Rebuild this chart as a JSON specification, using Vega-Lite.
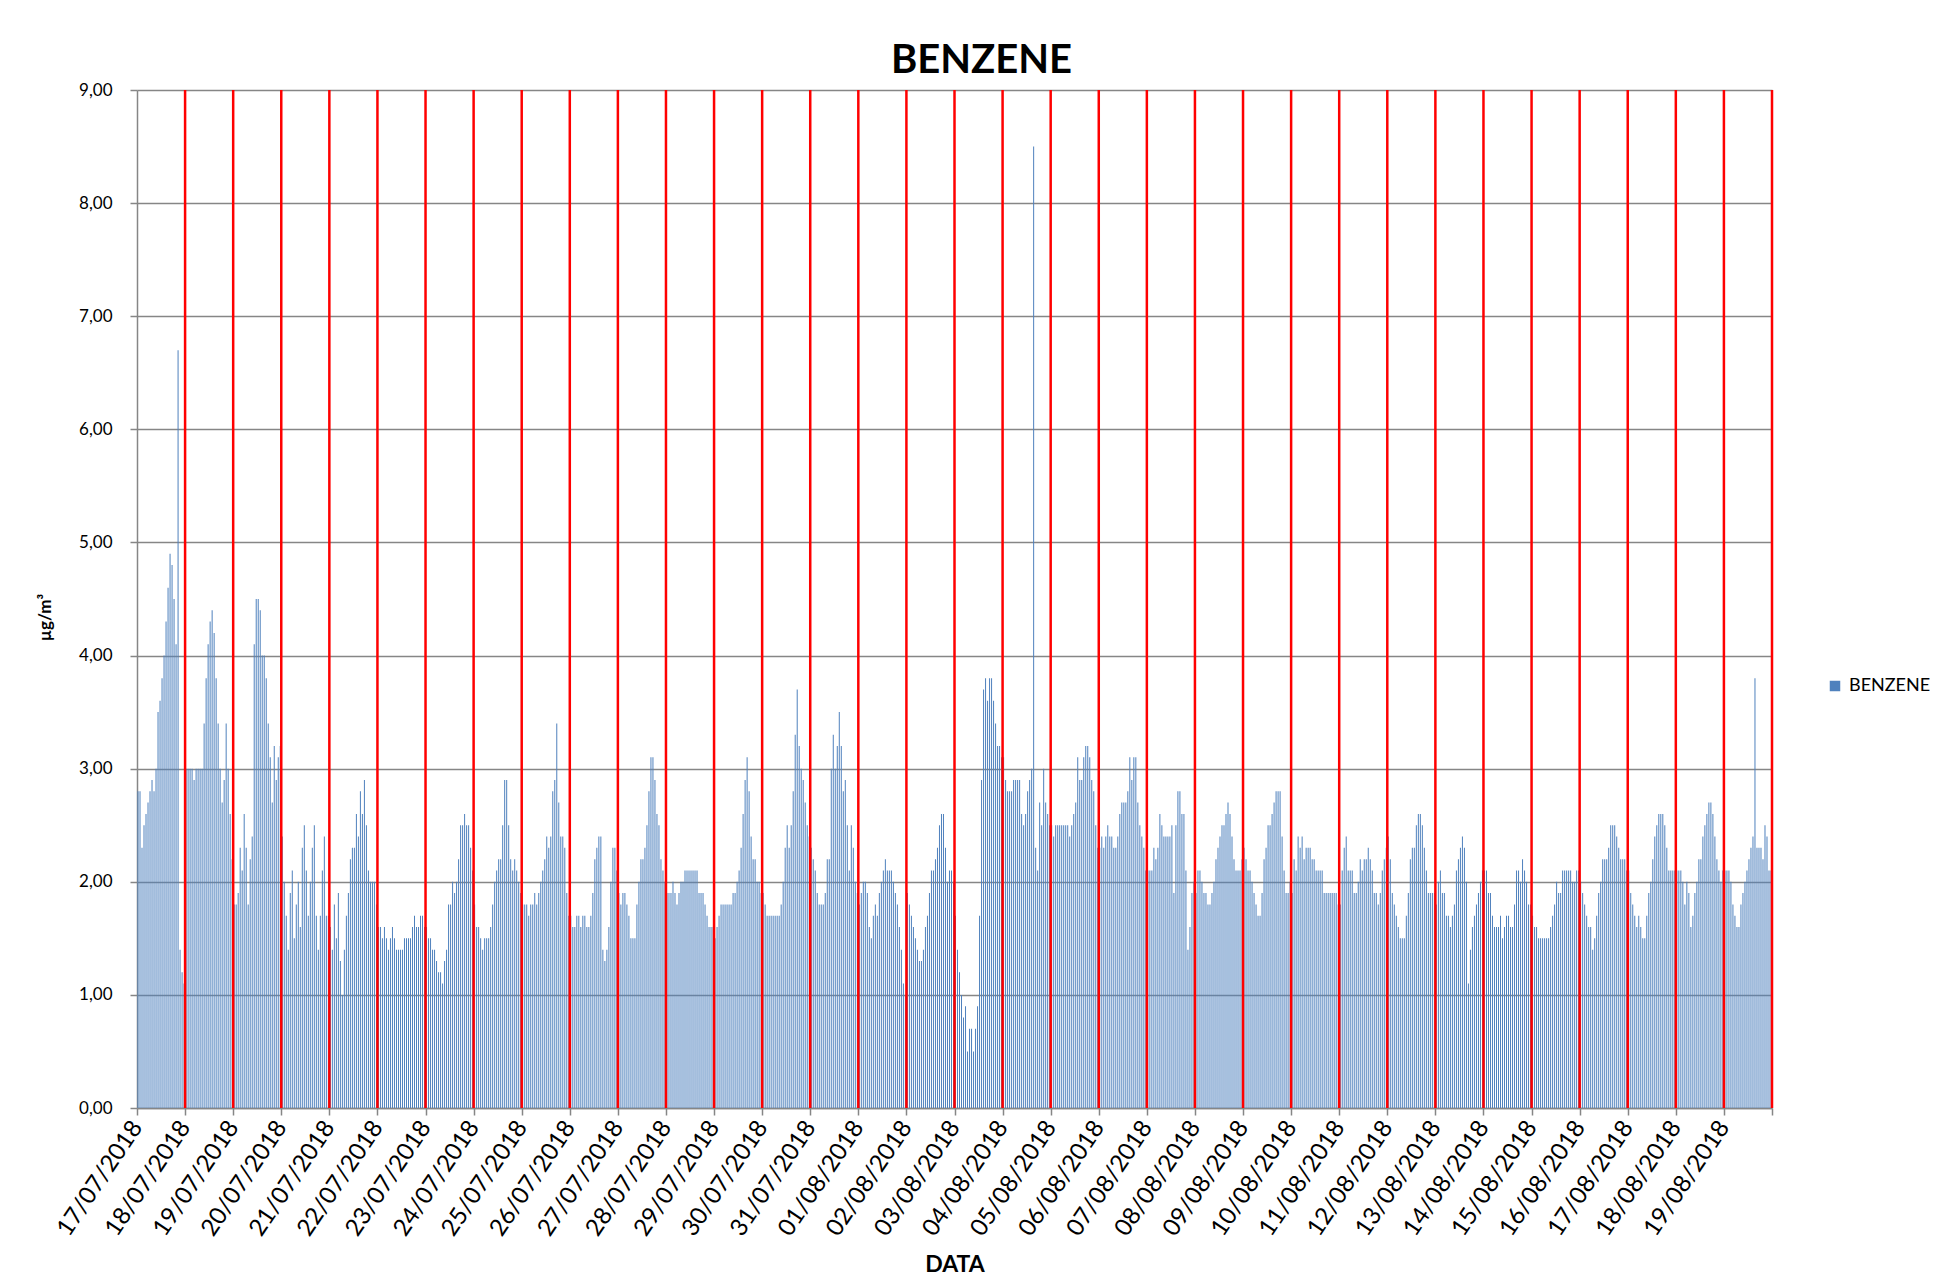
{
"$schema": "https://vega.github.io/schema/vega-lite/v6.json",
"background": "white",
"autosize": "none",
"width": 1635,
"height": 1018,
"padding": {"left": 137, "top": 90, "right": 185, "bottom": 170},
"title": {"text": "BENZENE", "fontSize": 40, "fontWeight": "bold", "font": "Lato", "anchor": "middle", "dx": 27, "offset": 0, "color": "black"},
"config": {"font": "Lato", "view": {"stroke": null}},
"datasets": {
"hourly": [
{"t":"2018-07-17T00:00","v":2.8},{"t":"2018-07-17T01:00","v":2.8},{"t":"2018-07-17T02:00","v":2.3},{"t":"2018-07-17T03:00","v":2.5},{"t":"2018-07-17T04:00","v":2.6},{"t":"2018-07-17T05:00","v":2.7},{"t":"2018-07-17T06:00","v":2.8},{"t":"2018-07-17T07:00","v":2.9},{"t":"2018-07-17T08:00","v":2.8},{"t":"2018-07-17T09:00","v":3.0},{"t":"2018-07-17T10:00","v":3.5},{"t":"2018-07-17T11:00","v":3.6},{"t":"2018-07-17T12:00","v":3.8},{"t":"2018-07-17T13:00","v":4.0},{"t":"2018-07-17T14:00","v":4.3},{"t":"2018-07-17T15:00","v":4.6},{"t":"2018-07-17T16:00","v":4.9},{"t":"2018-07-17T17:00","v":4.8},{"t":"2018-07-17T18:00","v":4.5},{"t":"2018-07-17T19:00","v":4.1},{"t":"2018-07-17T20:00","v":6.7},{"t":"2018-07-17T21:00","v":1.4},{"t":"2018-07-17T22:00","v":1.2},{"t":"2018-07-17T23:00","v":1.1},
{"t":"2018-07-18T00:00","v":3.0},{"t":"2018-07-18T01:00","v":3.0},{"t":"2018-07-18T02:00","v":3.0},{"t":"2018-07-18T03:00","v":3.0},{"t":"2018-07-18T04:00","v":2.9},{"t":"2018-07-18T05:00","v":3.0},{"t":"2018-07-18T06:00","v":3.0},{"t":"2018-07-18T07:00","v":3.0},{"t":"2018-07-18T08:00","v":3.0},{"t":"2018-07-18T09:00","v":3.4},{"t":"2018-07-18T10:00","v":3.8},{"t":"2018-07-18T11:00","v":4.1},{"t":"2018-07-18T12:00","v":4.3},{"t":"2018-07-18T13:00","v":4.4},{"t":"2018-07-18T14:00","v":4.2},{"t":"2018-07-18T15:00","v":3.8},{"t":"2018-07-18T16:00","v":3.4},{"t":"2018-07-18T17:00","v":3.0},{"t":"2018-07-18T18:00","v":2.7},{"t":"2018-07-18T19:00","v":2.9},{"t":"2018-07-18T20:00","v":3.4},{"t":"2018-07-18T21:00","v":3.0},{"t":"2018-07-18T22:00","v":2.6},{"t":"2018-07-18T23:00","v":2.2},
{"t":"2018-07-19T00:00","v":1.8},{"t":"2018-07-19T01:00","v":1.8},{"t":"2018-07-19T02:00","v":1.9},{"t":"2018-07-19T03:00","v":2.3},{"t":"2018-07-19T04:00","v":2.1},{"t":"2018-07-19T05:00","v":2.6},{"t":"2018-07-19T06:00","v":2.3},{"t":"2018-07-19T07:00","v":1.8},{"t":"2018-07-19T08:00","v":2.2},{"t":"2018-07-19T09:00","v":2.4},{"t":"2018-07-19T10:00","v":4.1},{"t":"2018-07-19T11:00","v":4.5},{"t":"2018-07-19T12:00","v":4.5},{"t":"2018-07-19T13:00","v":4.4},{"t":"2018-07-19T14:00","v":4.0},{"t":"2018-07-19T15:00","v":4.0},{"t":"2018-07-19T16:00","v":3.8},{"t":"2018-07-19T17:00","v":3.4},{"t":"2018-07-19T18:00","v":3.1},{"t":"2018-07-19T19:00","v":2.7},{"t":"2018-07-19T20:00","v":3.2},{"t":"2018-07-19T21:00","v":2.9},{"t":"2018-07-19T22:00","v":3.1},{"t":"2018-07-19T23:00","v":3.2},
{"t":"2018-07-20T00:00","v":2.4},{"t":"2018-07-20T01:00","v":2.0},{"t":"2018-07-20T02:00","v":1.7},{"t":"2018-07-20T03:00","v":1.4},{"t":"2018-07-20T04:00","v":1.9},{"t":"2018-07-20T05:00","v":2.1},{"t":"2018-07-20T06:00","v":1.5},{"t":"2018-07-20T07:00","v":1.8},{"t":"2018-07-20T08:00","v":2.0},{"t":"2018-07-20T09:00","v":1.6},{"t":"2018-07-20T10:00","v":2.3},{"t":"2018-07-20T11:00","v":2.5},{"t":"2018-07-20T12:00","v":2.1},{"t":"2018-07-20T13:00","v":1.7},{"t":"2018-07-20T14:00","v":2.0},{"t":"2018-07-20T15:00","v":2.3},{"t":"2018-07-20T16:00","v":2.5},{"t":"2018-07-20T17:00","v":1.7},{"t":"2018-07-20T18:00","v":1.4},{"t":"2018-07-20T19:00","v":1.7},{"t":"2018-07-20T20:00","v":2.1},{"t":"2018-07-20T21:00","v":2.4},{"t":"2018-07-20T22:00","v":1.7},{"t":"2018-07-20T23:00","v":1.7},
{"t":"2018-07-21T00:00","v":1.6},{"t":"2018-07-21T01:00","v":1.4},{"t":"2018-07-21T02:00","v":1.8},{"t":"2018-07-21T03:00","v":1.5},{"t":"2018-07-21T04:00","v":1.9},{"t":"2018-07-21T05:00","v":1.3},{"t":"2018-07-21T06:00","v":1.0},{"t":"2018-07-21T07:00","v":1.4},{"t":"2018-07-21T08:00","v":1.7},{"t":"2018-07-21T09:00","v":1.9},{"t":"2018-07-21T10:00","v":2.2},{"t":"2018-07-21T11:00","v":2.3},{"t":"2018-07-21T12:00","v":2.3},{"t":"2018-07-21T13:00","v":2.6},{"t":"2018-07-21T14:00","v":2.4},{"t":"2018-07-21T15:00","v":2.8},{"t":"2018-07-21T16:00","v":2.6},{"t":"2018-07-21T17:00","v":2.9},{"t":"2018-07-21T18:00","v":2.5},{"t":"2018-07-21T19:00","v":2.1},{"t":"2018-07-21T20:00","v":2.0},{"t":"2018-07-21T21:00","v":2.0},{"t":"2018-07-21T22:00","v":2.0},{"t":"2018-07-21T23:00","v":1.8},
{"t":"2018-07-22T00:00","v":1.6},{"t":"2018-07-22T01:00","v":1.6},{"t":"2018-07-22T02:00","v":1.5},{"t":"2018-07-22T03:00","v":1.6},{"t":"2018-07-22T04:00","v":1.5},{"t":"2018-07-22T05:00","v":1.4},{"t":"2018-07-22T06:00","v":1.5},{"t":"2018-07-22T07:00","v":1.6},{"t":"2018-07-22T08:00","v":1.5},{"t":"2018-07-22T09:00","v":1.4},{"t":"2018-07-22T10:00","v":1.4},{"t":"2018-07-22T11:00","v":1.4},{"t":"2018-07-22T12:00","v":1.4},{"t":"2018-07-22T13:00","v":1.5},{"t":"2018-07-22T14:00","v":1.5},{"t":"2018-07-22T15:00","v":1.5},{"t":"2018-07-22T16:00","v":1.5},{"t":"2018-07-22T17:00","v":1.6},{"t":"2018-07-22T18:00","v":1.7},{"t":"2018-07-22T19:00","v":1.6},{"t":"2018-07-22T20:00","v":1.6},{"t":"2018-07-22T21:00","v":1.7},{"t":"2018-07-22T22:00","v":1.7},{"t":"2018-07-22T23:00","v":1.6},
{"t":"2018-07-23T00:00","v":1.6},{"t":"2018-07-23T01:00","v":1.5},{"t":"2018-07-23T02:00","v":1.5},{"t":"2018-07-23T03:00","v":1.4},{"t":"2018-07-23T04:00","v":1.4},{"t":"2018-07-23T05:00","v":1.3},{"t":"2018-07-23T06:00","v":1.2},{"t":"2018-07-23T07:00","v":1.2},{"t":"2018-07-23T08:00","v":1.1},{"t":"2018-07-23T09:00","v":1.3},{"t":"2018-07-23T10:00","v":1.4},{"t":"2018-07-23T11:00","v":1.8},{"t":"2018-07-23T12:00","v":1.8},{"t":"2018-07-23T13:00","v":2.0},{"t":"2018-07-23T14:00","v":1.9},{"t":"2018-07-23T15:00","v":2.0},{"t":"2018-07-23T16:00","v":2.2},{"t":"2018-07-23T17:00","v":2.5},{"t":"2018-07-23T18:00","v":2.5},{"t":"2018-07-23T19:00","v":2.6},{"t":"2018-07-23T20:00","v":2.5},{"t":"2018-07-23T21:00","v":2.5},{"t":"2018-07-23T22:00","v":2.3},{"t":"2018-07-23T23:00","v":2.1},
{"t":"2018-07-24T00:00","v":1.8},{"t":"2018-07-24T01:00","v":1.6},{"t":"2018-07-24T02:00","v":1.6},{"t":"2018-07-24T03:00","v":1.5},{"t":"2018-07-24T04:00","v":1.4},{"t":"2018-07-24T05:00","v":1.5},{"t":"2018-07-24T06:00","v":1.5},{"t":"2018-07-24T07:00","v":1.5},{"t":"2018-07-24T08:00","v":1.6},{"t":"2018-07-24T09:00","v":1.8},{"t":"2018-07-24T10:00","v":2.0},{"t":"2018-07-24T11:00","v":2.1},{"t":"2018-07-24T12:00","v":2.2},{"t":"2018-07-24T13:00","v":2.2},{"t":"2018-07-24T14:00","v":2.5},{"t":"2018-07-24T15:00","v":2.9},{"t":"2018-07-24T16:00","v":2.9},{"t":"2018-07-24T17:00","v":2.5},{"t":"2018-07-24T18:00","v":2.2},{"t":"2018-07-24T19:00","v":2.1},{"t":"2018-07-24T20:00","v":2.2},{"t":"2018-07-24T21:00","v":2.1},{"t":"2018-07-24T22:00","v":2.0},{"t":"2018-07-24T23:00","v":1.9},
{"t":"2018-07-25T00:00","v":1.8},{"t":"2018-07-25T01:00","v":1.8},{"t":"2018-07-25T02:00","v":1.8},{"t":"2018-07-25T03:00","v":1.7},{"t":"2018-07-25T04:00","v":1.8},{"t":"2018-07-25T05:00","v":1.8},{"t":"2018-07-25T06:00","v":1.9},{"t":"2018-07-25T07:00","v":1.8},{"t":"2018-07-25T08:00","v":1.9},{"t":"2018-07-25T09:00","v":2.0},{"t":"2018-07-25T10:00","v":2.1},{"t":"2018-07-25T11:00","v":2.2},{"t":"2018-07-25T12:00","v":2.4},{"t":"2018-07-25T13:00","v":2.3},{"t":"2018-07-25T14:00","v":2.4},{"t":"2018-07-25T15:00","v":2.8},{"t":"2018-07-25T16:00","v":2.9},{"t":"2018-07-25T17:00","v":3.4},{"t":"2018-07-25T18:00","v":2.7},{"t":"2018-07-25T19:00","v":2.4},{"t":"2018-07-25T20:00","v":2.4},{"t":"2018-07-25T21:00","v":2.3},{"t":"2018-07-25T22:00","v":1.9},{"t":"2018-07-25T23:00","v":1.7},
{"t":"2018-07-26T00:00","v":1.7},{"t":"2018-07-26T01:00","v":1.6},{"t":"2018-07-26T02:00","v":1.6},{"t":"2018-07-26T03:00","v":1.7},{"t":"2018-07-26T04:00","v":1.7},{"t":"2018-07-26T05:00","v":1.6},{"t":"2018-07-26T06:00","v":1.7},{"t":"2018-07-26T07:00","v":1.7},{"t":"2018-07-26T08:00","v":1.6},{"t":"2018-07-26T09:00","v":1.6},{"t":"2018-07-26T10:00","v":1.7},{"t":"2018-07-26T11:00","v":1.9},{"t":"2018-07-26T12:00","v":2.2},{"t":"2018-07-26T13:00","v":2.3},{"t":"2018-07-26T14:00","v":2.4},{"t":"2018-07-26T15:00","v":2.4},{"t":"2018-07-26T16:00","v":1.4},{"t":"2018-07-26T17:00","v":1.3},{"t":"2018-07-26T18:00","v":1.4},{"t":"2018-07-26T19:00","v":1.6},{"t":"2018-07-26T20:00","v":2.0},{"t":"2018-07-26T21:00","v":2.3},{"t":"2018-07-26T22:00","v":2.3},{"t":"2018-07-26T23:00","v":2.1},
{"t":"2018-07-27T00:00","v":1.9},{"t":"2018-07-27T01:00","v":1.8},{"t":"2018-07-27T02:00","v":1.9},{"t":"2018-07-27T03:00","v":1.9},{"t":"2018-07-27T04:00","v":1.8},{"t":"2018-07-27T05:00","v":1.7},{"t":"2018-07-27T06:00","v":1.5},{"t":"2018-07-27T07:00","v":1.5},{"t":"2018-07-27T08:00","v":1.5},{"t":"2018-07-27T09:00","v":1.8},{"t":"2018-07-27T10:00","v":2.0},{"t":"2018-07-27T11:00","v":2.2},{"t":"2018-07-27T12:00","v":2.2},{"t":"2018-07-27T13:00","v":2.3},{"t":"2018-07-27T14:00","v":2.5},{"t":"2018-07-27T15:00","v":2.8},{"t":"2018-07-27T16:00","v":3.1},{"t":"2018-07-27T17:00","v":3.1},{"t":"2018-07-27T18:00","v":2.9},{"t":"2018-07-27T19:00","v":2.6},{"t":"2018-07-27T20:00","v":2.5},{"t":"2018-07-27T21:00","v":2.2},{"t":"2018-07-27T22:00","v":2.1},{"t":"2018-07-27T23:00","v":2.0},
{"t":"2018-07-28T00:00","v":1.9},{"t":"2018-07-28T01:00","v":1.9},{"t":"2018-07-28T02:00","v":1.9},{"t":"2018-07-28T03:00","v":2.0},{"t":"2018-07-28T04:00","v":1.9},{"t":"2018-07-28T05:00","v":1.8},{"t":"2018-07-28T06:00","v":1.9},{"t":"2018-07-28T07:00","v":2.0},{"t":"2018-07-28T08:00","v":2.0},{"t":"2018-07-28T09:00","v":2.1},{"t":"2018-07-28T10:00","v":2.1},{"t":"2018-07-28T11:00","v":2.1},{"t":"2018-07-28T12:00","v":2.1},{"t":"2018-07-28T13:00","v":2.1},{"t":"2018-07-28T14:00","v":2.1},{"t":"2018-07-28T15:00","v":2.1},{"t":"2018-07-28T16:00","v":1.9},{"t":"2018-07-28T17:00","v":1.9},{"t":"2018-07-28T18:00","v":1.9},{"t":"2018-07-28T19:00","v":1.8},{"t":"2018-07-28T20:00","v":1.7},{"t":"2018-07-28T21:00","v":1.6},{"t":"2018-07-28T22:00","v":1.6},{"t":"2018-07-28T23:00","v":1.6},
{"t":"2018-07-29T00:00","v":1.5},{"t":"2018-07-29T01:00","v":1.6},{"t":"2018-07-29T02:00","v":1.7},{"t":"2018-07-29T03:00","v":1.8},{"t":"2018-07-29T04:00","v":1.8},{"t":"2018-07-29T05:00","v":1.8},{"t":"2018-07-29T06:00","v":1.8},{"t":"2018-07-29T07:00","v":1.8},{"t":"2018-07-29T08:00","v":1.8},{"t":"2018-07-29T09:00","v":1.9},{"t":"2018-07-29T10:00","v":1.9},{"t":"2018-07-29T11:00","v":2.0},{"t":"2018-07-29T12:00","v":2.1},{"t":"2018-07-29T13:00","v":2.3},{"t":"2018-07-29T14:00","v":2.6},{"t":"2018-07-29T15:00","v":2.9},{"t":"2018-07-29T16:00","v":3.1},{"t":"2018-07-29T17:00","v":2.8},{"t":"2018-07-29T18:00","v":2.4},{"t":"2018-07-29T19:00","v":2.2},{"t":"2018-07-29T20:00","v":2.2},{"t":"2018-07-29T21:00","v":2.0},{"t":"2018-07-29T22:00","v":2.0},{"t":"2018-07-29T23:00","v":1.9},
{"t":"2018-07-30T00:00","v":1.9},{"t":"2018-07-30T01:00","v":1.8},{"t":"2018-07-30T02:00","v":1.7},{"t":"2018-07-30T03:00","v":1.7},{"t":"2018-07-30T04:00","v":1.7},{"t":"2018-07-30T05:00","v":1.7},{"t":"2018-07-30T06:00","v":1.7},{"t":"2018-07-30T07:00","v":1.7},{"t":"2018-07-30T08:00","v":1.7},{"t":"2018-07-30T09:00","v":1.8},{"t":"2018-07-30T10:00","v":2.0},{"t":"2018-07-30T11:00","v":2.3},{"t":"2018-07-30T12:00","v":2.5},{"t":"2018-07-30T13:00","v":2.3},{"t":"2018-07-30T14:00","v":2.5},{"t":"2018-07-30T15:00","v":2.8},{"t":"2018-07-30T16:00","v":3.3},{"t":"2018-07-30T17:00","v":3.7},{"t":"2018-07-30T18:00","v":3.2},{"t":"2018-07-30T19:00","v":3.0},{"t":"2018-07-30T20:00","v":2.9},{"t":"2018-07-30T21:00","v":2.7},{"t":"2018-07-30T22:00","v":2.5},{"t":"2018-07-30T23:00","v":2.4},
{"t":"2018-07-31T00:00","v":2.3},{"t":"2018-07-31T01:00","v":2.2},{"t":"2018-07-31T02:00","v":2.1},{"t":"2018-07-31T03:00","v":1.9},{"t":"2018-07-31T04:00","v":1.8},{"t":"2018-07-31T05:00","v":1.8},{"t":"2018-07-31T06:00","v":1.8},{"t":"2018-07-31T07:00","v":1.9},{"t":"2018-07-31T08:00","v":2.2},{"t":"2018-07-31T09:00","v":2.2},{"t":"2018-07-31T10:00","v":3.0},{"t":"2018-07-31T11:00","v":3.3},{"t":"2018-07-31T12:00","v":3.0},{"t":"2018-07-31T13:00","v":3.2},{"t":"2018-07-31T14:00","v":3.5},{"t":"2018-07-31T15:00","v":3.2},{"t":"2018-07-31T16:00","v":2.8},{"t":"2018-07-31T17:00","v":2.9},{"t":"2018-07-31T18:00","v":2.5},{"t":"2018-07-31T19:00","v":2.1},{"t":"2018-07-31T20:00","v":2.5},{"t":"2018-07-31T21:00","v":2.3},{"t":"2018-07-31T22:00","v":2.0},{"t":"2018-07-31T23:00","v":1.9},
{"t":"2018-08-01T00:00","v":1.8},{"t":"2018-08-01T01:00","v":1.9},{"t":"2018-08-01T02:00","v":2.0},{"t":"2018-08-01T03:00","v":2.0},{"t":"2018-08-01T04:00","v":1.9},{"t":"2018-08-01T05:00","v":1.6},{"t":"2018-08-01T06:00","v":1.5},{"t":"2018-08-01T07:00","v":1.7},{"t":"2018-08-01T08:00","v":1.8},{"t":"2018-08-01T09:00","v":1.7},{"t":"2018-08-01T10:00","v":1.9},{"t":"2018-08-01T11:00","v":2.0},{"t":"2018-08-01T12:00","v":2.1},{"t":"2018-08-01T13:00","v":2.2},{"t":"2018-08-01T14:00","v":2.1},{"t":"2018-08-01T15:00","v":2.1},{"t":"2018-08-01T16:00","v":2.1},{"t":"2018-08-01T17:00","v":2.0},{"t":"2018-08-01T18:00","v":1.9},{"t":"2018-08-01T19:00","v":1.8},{"t":"2018-08-01T20:00","v":1.6},{"t":"2018-08-01T21:00","v":1.4},{"t":"2018-08-01T22:00","v":1.1},{"t":"2018-08-01T23:00","v":1.0},
{"t":"2018-08-02T00:00","v":1.9},{"t":"2018-08-02T01:00","v":1.8},{"t":"2018-08-02T02:00","v":1.7},{"t":"2018-08-02T03:00","v":1.6},{"t":"2018-08-02T04:00","v":1.5},{"t":"2018-08-02T05:00","v":1.4},{"t":"2018-08-02T06:00","v":1.3},{"t":"2018-08-02T07:00","v":1.3},{"t":"2018-08-02T08:00","v":1.4},{"t":"2018-08-02T09:00","v":1.6},{"t":"2018-08-02T10:00","v":1.7},{"t":"2018-08-02T11:00","v":1.9},{"t":"2018-08-02T12:00","v":2.1},{"t":"2018-08-02T13:00","v":2.1},{"t":"2018-08-02T14:00","v":2.2},{"t":"2018-08-02T15:00","v":2.3},{"t":"2018-08-02T16:00","v":2.5},{"t":"2018-08-02T17:00","v":2.6},{"t":"2018-08-02T18:00","v":2.6},{"t":"2018-08-02T19:00","v":2.3},{"t":"2018-08-02T20:00","v":2.0},{"t":"2018-08-02T21:00","v":2.1},{"t":"2018-08-02T22:00","v":2.1},{"t":"2018-08-02T23:00","v":2.0},
{"t":"2018-08-03T00:00","v":1.7},{"t":"2018-08-03T01:00","v":1.4},{"t":"2018-08-03T02:00","v":1.2},{"t":"2018-08-03T03:00","v":1.0},{"t":"2018-08-03T04:00","v":0.8},{"t":"2018-08-03T05:00","v":0.9},{"t":"2018-08-03T06:00","v":0.5},{"t":"2018-08-03T07:00","v":0.7},{"t":"2018-08-03T08:00","v":0.7},{"t":"2018-08-03T09:00","v":0.5},{"t":"2018-08-03T10:00","v":0.7},{"t":"2018-08-03T11:00","v":0.9},{"t":"2018-08-03T12:00","v":1.7},{"t":"2018-08-03T13:00","v":2.9},{"t":"2018-08-03T14:00","v":3.7},{"t":"2018-08-03T15:00","v":3.8},{"t":"2018-08-03T16:00","v":3.6},{"t":"2018-08-03T17:00","v":3.8},{"t":"2018-08-03T18:00","v":3.8},{"t":"2018-08-03T19:00","v":3.6},{"t":"2018-08-03T20:00","v":3.4},{"t":"2018-08-03T21:00","v":3.2},{"t":"2018-08-03T22:00","v":3.2},{"t":"2018-08-03T23:00","v":3.1},
{"t":"2018-08-04T00:00","v":3.1},{"t":"2018-08-04T01:00","v":2.9},{"t":"2018-08-04T02:00","v":2.8},{"t":"2018-08-04T03:00","v":2.8},{"t":"2018-08-04T04:00","v":2.8},{"t":"2018-08-04T05:00","v":2.9},{"t":"2018-08-04T06:00","v":2.9},{"t":"2018-08-04T07:00","v":2.9},{"t":"2018-08-04T08:00","v":2.9},{"t":"2018-08-04T09:00","v":2.6},{"t":"2018-08-04T10:00","v":2.5},{"t":"2018-08-04T11:00","v":2.6},{"t":"2018-08-04T12:00","v":2.8},{"t":"2018-08-04T13:00","v":2.9},{"t":"2018-08-04T14:00","v":3.0},{"t":"2018-08-04T15:00","v":8.5},{"t":"2018-08-04T16:00","v":2.3},{"t":"2018-08-04T17:00","v":2.1},{"t":"2018-08-04T18:00","v":2.7},{"t":"2018-08-04T19:00","v":2.5},{"t":"2018-08-04T20:00","v":3.0},{"t":"2018-08-04T21:00","v":2.7},{"t":"2018-08-04T22:00","v":2.6},{"t":"2018-08-04T23:00","v":2.5},
{"t":"2018-08-05T00:00","v":2.5},{"t":"2018-08-05T01:00","v":2.4},{"t":"2018-08-05T02:00","v":2.5},{"t":"2018-08-05T03:00","v":2.5},{"t":"2018-08-05T04:00","v":2.5},{"t":"2018-08-05T05:00","v":2.5},{"t":"2018-08-05T06:00","v":2.5},{"t":"2018-08-05T07:00","v":2.5},{"t":"2018-08-05T08:00","v":2.5},{"t":"2018-08-05T09:00","v":2.4},{"t":"2018-08-05T10:00","v":2.5},{"t":"2018-08-05T11:00","v":2.6},{"t":"2018-08-05T12:00","v":2.7},{"t":"2018-08-05T13:00","v":3.1},{"t":"2018-08-05T14:00","v":2.9},{"t":"2018-08-05T15:00","v":2.9},{"t":"2018-08-05T16:00","v":3.1},{"t":"2018-08-05T17:00","v":3.2},{"t":"2018-08-05T18:00","v":3.2},{"t":"2018-08-05T19:00","v":3.1},{"t":"2018-08-05T20:00","v":2.9},{"t":"2018-08-05T21:00","v":2.8},{"t":"2018-08-05T22:00","v":2.5},{"t":"2018-08-05T23:00","v":2.3},
{"t":"2018-08-06T00:00","v":2.3},{"t":"2018-08-06T01:00","v":2.4},{"t":"2018-08-06T02:00","v":2.3},{"t":"2018-08-06T03:00","v":2.4},{"t":"2018-08-06T04:00","v":2.5},{"t":"2018-08-06T05:00","v":2.4},{"t":"2018-08-06T06:00","v":2.4},{"t":"2018-08-06T07:00","v":2.3},{"t":"2018-08-06T08:00","v":2.3},{"t":"2018-08-06T09:00","v":2.4},{"t":"2018-08-06T10:00","v":2.6},{"t":"2018-08-06T11:00","v":2.7},{"t":"2018-08-06T12:00","v":2.7},{"t":"2018-08-06T13:00","v":2.7},{"t":"2018-08-06T14:00","v":2.8},{"t":"2018-08-06T15:00","v":3.1},{"t":"2018-08-06T16:00","v":2.9},{"t":"2018-08-06T17:00","v":3.1},{"t":"2018-08-06T18:00","v":3.1},{"t":"2018-08-06T19:00","v":2.7},{"t":"2018-08-06T20:00","v":2.5},{"t":"2018-08-06T21:00","v":2.4},{"t":"2018-08-06T22:00","v":2.3},{"t":"2018-08-06T23:00","v":2.1},
{"t":"2018-08-07T00:00","v":2.1},{"t":"2018-08-07T01:00","v":2.1},{"t":"2018-08-07T02:00","v":2.1},{"t":"2018-08-07T03:00","v":2.3},{"t":"2018-08-07T04:00","v":2.2},{"t":"2018-08-07T05:00","v":2.3},{"t":"2018-08-07T06:00","v":2.6},{"t":"2018-08-07T07:00","v":2.5},{"t":"2018-08-07T08:00","v":2.4},{"t":"2018-08-07T09:00","v":2.4},{"t":"2018-08-07T10:00","v":2.4},{"t":"2018-08-07T11:00","v":2.4},{"t":"2018-08-07T12:00","v":2.5},{"t":"2018-08-07T13:00","v":1.9},{"t":"2018-08-07T14:00","v":2.5},{"t":"2018-08-07T15:00","v":2.8},{"t":"2018-08-07T16:00","v":2.8},{"t":"2018-08-07T17:00","v":2.6},{"t":"2018-08-07T18:00","v":2.6},{"t":"2018-08-07T19:00","v":2.1},{"t":"2018-08-07T20:00","v":1.4},{"t":"2018-08-07T21:00","v":1.6},{"t":"2018-08-07T22:00","v":1.9},{"t":"2018-08-07T23:00","v":2.0},
{"t":"2018-08-08T00:00","v":1.9},{"t":"2018-08-08T01:00","v":2.1},{"t":"2018-08-08T02:00","v":2.1},{"t":"2018-08-08T03:00","v":2.0},{"t":"2018-08-08T04:00","v":1.9},{"t":"2018-08-08T05:00","v":1.9},{"t":"2018-08-08T06:00","v":1.8},{"t":"2018-08-08T07:00","v":1.8},{"t":"2018-08-08T08:00","v":1.9},{"t":"2018-08-08T09:00","v":2.0},{"t":"2018-08-08T10:00","v":2.2},{"t":"2018-08-08T11:00","v":2.3},{"t":"2018-08-08T12:00","v":2.4},{"t":"2018-08-08T13:00","v":2.5},{"t":"2018-08-08T14:00","v":2.5},{"t":"2018-08-08T15:00","v":2.6},{"t":"2018-08-08T16:00","v":2.7},{"t":"2018-08-08T17:00","v":2.6},{"t":"2018-08-08T18:00","v":2.4},{"t":"2018-08-08T19:00","v":2.2},{"t":"2018-08-08T20:00","v":2.1},{"t":"2018-08-08T21:00","v":2.1},{"t":"2018-08-08T22:00","v":2.1},{"t":"2018-08-08T23:00","v":2.2},
{"t":"2018-08-09T00:00","v":2.3},{"t":"2018-08-09T01:00","v":2.2},{"t":"2018-08-09T02:00","v":2.1},{"t":"2018-08-09T03:00","v":2.1},{"t":"2018-08-09T04:00","v":2.0},{"t":"2018-08-09T05:00","v":1.9},{"t":"2018-08-09T06:00","v":1.8},{"t":"2018-08-09T07:00","v":1.7},{"t":"2018-08-09T08:00","v":1.7},{"t":"2018-08-09T09:00","v":1.9},{"t":"2018-08-09T10:00","v":2.2},{"t":"2018-08-09T11:00","v":2.3},{"t":"2018-08-09T12:00","v":2.5},{"t":"2018-08-09T13:00","v":2.5},{"t":"2018-08-09T14:00","v":2.6},{"t":"2018-08-09T15:00","v":2.7},{"t":"2018-08-09T16:00","v":2.8},{"t":"2018-08-09T17:00","v":2.8},{"t":"2018-08-09T18:00","v":2.8},{"t":"2018-08-09T19:00","v":2.4},{"t":"2018-08-09T20:00","v":2.1},{"t":"2018-08-09T21:00","v":1.9},{"t":"2018-08-09T22:00","v":1.9},{"t":"2018-08-09T23:00","v":2.0},
{"t":"2018-08-10T00:00","v":1.9},{"t":"2018-08-10T01:00","v":2.2},{"t":"2018-08-10T02:00","v":2.1},{"t":"2018-08-10T03:00","v":2.4},{"t":"2018-08-10T04:00","v":2.3},{"t":"2018-08-10T05:00","v":2.4},{"t":"2018-08-10T06:00","v":2.2},{"t":"2018-08-10T07:00","v":2.3},{"t":"2018-08-10T08:00","v":2.3},{"t":"2018-08-10T09:00","v":2.3},{"t":"2018-08-10T10:00","v":2.2},{"t":"2018-08-10T11:00","v":2.2},{"t":"2018-08-10T12:00","v":2.1},{"t":"2018-08-10T13:00","v":2.1},{"t":"2018-08-10T14:00","v":2.1},{"t":"2018-08-10T15:00","v":2.1},{"t":"2018-08-10T16:00","v":1.9},{"t":"2018-08-10T17:00","v":1.9},{"t":"2018-08-10T18:00","v":1.9},{"t":"2018-08-10T19:00","v":1.9},{"t":"2018-08-10T20:00","v":1.9},{"t":"2018-08-10T21:00","v":1.9},{"t":"2018-08-10T22:00","v":1.9},{"t":"2018-08-10T23:00","v":1.8},
{"t":"2018-08-11T00:00","v":1.8},{"t":"2018-08-11T01:00","v":2.1},{"t":"2018-08-11T02:00","v":2.3},{"t":"2018-08-11T03:00","v":2.4},{"t":"2018-08-11T04:00","v":2.1},{"t":"2018-08-11T05:00","v":2.1},{"t":"2018-08-11T06:00","v":2.1},{"t":"2018-08-11T07:00","v":1.9},{"t":"2018-08-11T08:00","v":1.9},{"t":"2018-08-11T09:00","v":2.0},{"t":"2018-08-11T10:00","v":2.2},{"t":"2018-08-11T11:00","v":2.1},{"t":"2018-08-11T12:00","v":2.2},{"t":"2018-08-11T13:00","v":2.2},{"t":"2018-08-11T14:00","v":2.3},{"t":"2018-08-11T15:00","v":2.2},{"t":"2018-08-11T16:00","v":2.1},{"t":"2018-08-11T17:00","v":1.9},{"t":"2018-08-11T18:00","v":1.9},{"t":"2018-08-11T19:00","v":1.8},{"t":"2018-08-11T20:00","v":1.9},{"t":"2018-08-11T21:00","v":2.1},{"t":"2018-08-11T22:00","v":2.2},{"t":"2018-08-11T23:00","v":2.3},
{"t":"2018-08-12T00:00","v":2.4},{"t":"2018-08-12T01:00","v":2.2},{"t":"2018-08-12T02:00","v":1.9},{"t":"2018-08-12T03:00","v":1.8},{"t":"2018-08-12T04:00","v":1.7},{"t":"2018-08-12T05:00","v":1.6},{"t":"2018-08-12T06:00","v":1.5},{"t":"2018-08-12T07:00","v":1.5},{"t":"2018-08-12T08:00","v":1.5},{"t":"2018-08-12T09:00","v":1.7},{"t":"2018-08-12T10:00","v":1.9},{"t":"2018-08-12T11:00","v":2.2},{"t":"2018-08-12T12:00","v":2.3},{"t":"2018-08-12T13:00","v":2.3},{"t":"2018-08-12T14:00","v":2.5},{"t":"2018-08-12T15:00","v":2.6},{"t":"2018-08-12T16:00","v":2.6},{"t":"2018-08-12T17:00","v":2.5},{"t":"2018-08-12T18:00","v":2.3},{"t":"2018-08-12T19:00","v":2.1},{"t":"2018-08-12T20:00","v":1.9},{"t":"2018-08-12T21:00","v":1.9},{"t":"2018-08-12T22:00","v":1.9},{"t":"2018-08-12T23:00","v":1.9},
{"t":"2018-08-13T00:00","v":1.8},{"t":"2018-08-13T01:00","v":2.0},{"t":"2018-08-13T02:00","v":2.1},{"t":"2018-08-13T03:00","v":1.9},{"t":"2018-08-13T04:00","v":1.9},{"t":"2018-08-13T05:00","v":1.7},{"t":"2018-08-13T06:00","v":1.7},{"t":"2018-08-13T07:00","v":1.6},{"t":"2018-08-13T08:00","v":1.7},{"t":"2018-08-13T09:00","v":1.8},{"t":"2018-08-13T10:00","v":2.1},{"t":"2018-08-13T11:00","v":2.2},{"t":"2018-08-13T12:00","v":2.3},{"t":"2018-08-13T13:00","v":2.4},{"t":"2018-08-13T14:00","v":2.3},{"t":"2018-08-13T15:00","v":2.0},{"t":"2018-08-13T16:00","v":1.1},{"t":"2018-08-13T17:00","v":1.4},{"t":"2018-08-13T18:00","v":1.6},{"t":"2018-08-13T19:00","v":1.7},{"t":"2018-08-13T20:00","v":1.8},{"t":"2018-08-13T21:00","v":1.9},{"t":"2018-08-13T22:00","v":2.0},{"t":"2018-08-13T23:00","v":2.1},
{"t":"2018-08-14T00:00","v":2.1},{"t":"2018-08-14T01:00","v":2.1},{"t":"2018-08-14T02:00","v":1.9},{"t":"2018-08-14T03:00","v":1.9},{"t":"2018-08-14T04:00","v":1.7},{"t":"2018-08-14T05:00","v":1.6},{"t":"2018-08-14T06:00","v":1.6},{"t":"2018-08-14T07:00","v":1.6},{"t":"2018-08-14T08:00","v":1.7},{"t":"2018-08-14T09:00","v":1.5},{"t":"2018-08-14T10:00","v":1.6},{"t":"2018-08-14T11:00","v":1.7},{"t":"2018-08-14T12:00","v":1.7},{"t":"2018-08-14T13:00","v":1.6},{"t":"2018-08-14T14:00","v":1.6},{"t":"2018-08-14T15:00","v":1.8},{"t":"2018-08-14T16:00","v":2.1},{"t":"2018-08-14T17:00","v":2.1},{"t":"2018-08-14T18:00","v":2.0},{"t":"2018-08-14T19:00","v":2.2},{"t":"2018-08-14T20:00","v":2.1},{"t":"2018-08-14T21:00","v":2.0},{"t":"2018-08-14T22:00","v":1.8},{"t":"2018-08-14T23:00","v":1.8},
{"t":"2018-08-15T00:00","v":1.7},{"t":"2018-08-15T01:00","v":1.6},{"t":"2018-08-15T02:00","v":1.6},{"t":"2018-08-15T03:00","v":1.5},{"t":"2018-08-15T04:00","v":1.5},{"t":"2018-08-15T05:00","v":1.5},{"t":"2018-08-15T06:00","v":1.5},{"t":"2018-08-15T07:00","v":1.5},{"t":"2018-08-15T08:00","v":1.5},{"t":"2018-08-15T09:00","v":1.6},{"t":"2018-08-15T10:00","v":1.7},{"t":"2018-08-15T11:00","v":1.8},{"t":"2018-08-15T12:00","v":2.0},{"t":"2018-08-15T13:00","v":1.9},{"t":"2018-08-15T14:00","v":1.9},{"t":"2018-08-15T15:00","v":2.1},{"t":"2018-08-15T16:00","v":2.1},{"t":"2018-08-15T17:00","v":2.1},{"t":"2018-08-15T18:00","v":2.1},{"t":"2018-08-15T19:00","v":2.1},{"t":"2018-08-15T20:00","v":2.0},{"t":"2018-08-15T21:00","v":2.0},{"t":"2018-08-15T22:00","v":2.1},{"t":"2018-08-15T23:00","v":2.1},
{"t":"2018-08-16T00:00","v":2.0},{"t":"2018-08-16T01:00","v":1.9},{"t":"2018-08-16T02:00","v":1.8},{"t":"2018-08-16T03:00","v":1.7},{"t":"2018-08-16T04:00","v":1.6},{"t":"2018-08-16T05:00","v":1.6},{"t":"2018-08-16T06:00","v":1.4},{"t":"2018-08-16T07:00","v":1.5},{"t":"2018-08-16T08:00","v":1.7},{"t":"2018-08-16T09:00","v":1.9},{"t":"2018-08-16T10:00","v":2.0},{"t":"2018-08-16T11:00","v":2.2},{"t":"2018-08-16T12:00","v":2.2},{"t":"2018-08-16T13:00","v":2.2},{"t":"2018-08-16T14:00","v":2.3},{"t":"2018-08-16T15:00","v":2.5},{"t":"2018-08-16T16:00","v":2.5},{"t":"2018-08-16T17:00","v":2.5},{"t":"2018-08-16T18:00","v":2.4},{"t":"2018-08-16T19:00","v":2.3},{"t":"2018-08-16T20:00","v":2.2},{"t":"2018-08-16T21:00","v":2.2},{"t":"2018-08-16T22:00","v":2.2},{"t":"2018-08-16T23:00","v":2.1},
{"t":"2018-08-17T00:00","v":2.1},{"t":"2018-08-17T01:00","v":1.9},{"t":"2018-08-17T02:00","v":1.8},{"t":"2018-08-17T03:00","v":1.7},{"t":"2018-08-17T04:00","v":1.6},{"t":"2018-08-17T05:00","v":1.7},{"t":"2018-08-17T06:00","v":1.6},{"t":"2018-08-17T07:00","v":1.5},{"t":"2018-08-17T08:00","v":1.5},{"t":"2018-08-17T09:00","v":1.7},{"t":"2018-08-17T10:00","v":1.9},{"t":"2018-08-17T11:00","v":2.0},{"t":"2018-08-17T12:00","v":2.2},{"t":"2018-08-17T13:00","v":2.4},{"t":"2018-08-17T14:00","v":2.5},{"t":"2018-08-17T15:00","v":2.6},{"t":"2018-08-17T16:00","v":2.6},{"t":"2018-08-17T17:00","v":2.6},{"t":"2018-08-17T18:00","v":2.5},{"t":"2018-08-17T19:00","v":2.3},{"t":"2018-08-17T20:00","v":2.1},{"t":"2018-08-17T21:00","v":2.1},{"t":"2018-08-17T22:00","v":2.1},{"t":"2018-08-17T23:00","v":2.1},
{"t":"2018-08-18T00:00","v":2.1},{"t":"2018-08-18T01:00","v":2.1},{"t":"2018-08-18T02:00","v":2.1},{"t":"2018-08-18T03:00","v":2.0},{"t":"2018-08-18T04:00","v":1.8},{"t":"2018-08-18T05:00","v":2.0},{"t":"2018-08-18T06:00","v":1.9},{"t":"2018-08-18T07:00","v":1.6},{"t":"2018-08-18T08:00","v":1.7},{"t":"2018-08-18T09:00","v":1.9},{"t":"2018-08-18T10:00","v":2.0},{"t":"2018-08-18T11:00","v":2.2},{"t":"2018-08-18T12:00","v":2.2},{"t":"2018-08-18T13:00","v":2.4},{"t":"2018-08-18T14:00","v":2.5},{"t":"2018-08-18T15:00","v":2.6},{"t":"2018-08-18T16:00","v":2.7},{"t":"2018-08-18T17:00","v":2.7},{"t":"2018-08-18T18:00","v":2.6},{"t":"2018-08-18T19:00","v":2.4},{"t":"2018-08-18T20:00","v":2.2},{"t":"2018-08-18T21:00","v":2.1},{"t":"2018-08-18T22:00","v":2.0},{"t":"2018-08-18T23:00","v":2.1},
{"t":"2018-08-19T00:00","v":2.1},{"t":"2018-08-19T01:00","v":2.1},{"t":"2018-08-19T02:00","v":2.1},{"t":"2018-08-19T03:00","v":2.0},{"t":"2018-08-19T04:00","v":1.8},{"t":"2018-08-19T05:00","v":1.7},{"t":"2018-08-19T06:00","v":1.6},{"t":"2018-08-19T07:00","v":1.6},{"t":"2018-08-19T08:00","v":1.8},{"t":"2018-08-19T09:00","v":1.9},{"t":"2018-08-19T10:00","v":2.0},{"t":"2018-08-19T11:00","v":2.1},{"t":"2018-08-19T12:00","v":2.2},{"t":"2018-08-19T13:00","v":2.3},{"t":"2018-08-19T14:00","v":2.4},{"t":"2018-08-19T15:00","v":3.8},{"t":"2018-08-19T16:00","v":2.3},{"t":"2018-08-19T17:00","v":2.3},{"t":"2018-08-19T18:00","v":2.3},{"t":"2018-08-19T19:00","v":2.2},{"t":"2018-08-19T20:00","v":2.5},{"t":"2018-08-19T21:00","v":2.4},{"t":"2018-08-19T22:00","v":2.1},{"t":"2018-08-19T23:00","v":2.1}
],
"days": [
{"d":"2018-07-18T00:00"},{"d":"2018-07-19T00:00"},{"d":"2018-07-20T00:00"},{"d":"2018-07-21T00:00"},{"d":"2018-07-22T00:00"},{"d":"2018-07-23T00:00"},{"d":"2018-07-24T00:00"},{"d":"2018-07-25T00:00"},{"d":"2018-07-26T00:00"},{"d":"2018-07-27T00:00"},{"d":"2018-07-28T00:00"},{"d":"2018-07-29T00:00"},{"d":"2018-07-30T00:00"},{"d":"2018-07-31T00:00"},{"d":"2018-08-01T00:00"},{"d":"2018-08-02T00:00"},{"d":"2018-08-03T00:00"},{"d":"2018-08-04T00:00"},{"d":"2018-08-05T00:00"},{"d":"2018-08-06T00:00"},{"d":"2018-08-07T00:00"},{"d":"2018-08-08T00:00"},{"d":"2018-08-09T00:00"},{"d":"2018-08-10T00:00"},{"d":"2018-08-11T00:00"},{"d":"2018-08-12T00:00"},{"d":"2018-08-13T00:00"},{"d":"2018-08-14T00:00"},{"d":"2018-08-15T00:00"},{"d":"2018-08-16T00:00"},{"d":"2018-08-17T00:00"},{"d":"2018-08-18T00:00"},{"d":"2018-08-19T00:00"},{"d":"2018-08-20T00:00"}
]
},
"layer": [
{
"data": {"name": "hourly"},
"mark": {"type": "bar", "width": 1, "xOffset": 1},
"encoding": {
"x": {"field": "t", "type": "temporal",
"scale": {"domain": [{"year": 2018, "month": "jul", "date": 17}, {"year": 2018, "month": "aug", "date": 20}], "nice": false, "padding": 0},
"axis": {
"title": "DATA", "titleFontSize": 23, "titleFontWeight": "bold", "titleColor": "black", "titlePadding": 13,
"values": [
{"year":2018,"month":"jul","date":17},{"year":2018,"month":"jul","date":18},{"year":2018,"month":"jul","date":19},{"year":2018,"month":"jul","date":20},{"year":2018,"month":"jul","date":21},{"year":2018,"month":"jul","date":22},{"year":2018,"month":"jul","date":23},{"year":2018,"month":"jul","date":24},{"year":2018,"month":"jul","date":25},{"year":2018,"month":"jul","date":26},{"year":2018,"month":"jul","date":27},{"year":2018,"month":"jul","date":28},{"year":2018,"month":"jul","date":29},{"year":2018,"month":"jul","date":30},{"year":2018,"month":"jul","date":31},
{"year":2018,"month":"aug","date":1},{"year":2018,"month":"aug","date":2},{"year":2018,"month":"aug","date":3},{"year":2018,"month":"aug","date":4},{"year":2018,"month":"aug","date":5},{"year":2018,"month":"aug","date":6},{"year":2018,"month":"aug","date":7},{"year":2018,"month":"aug","date":8},{"year":2018,"month":"aug","date":9},{"year":2018,"month":"aug","date":10},{"year":2018,"month":"aug","date":11},{"year":2018,"month":"aug","date":12},{"year":2018,"month":"aug","date":13},{"year":2018,"month":"aug","date":14},{"year":2018,"month":"aug","date":15},{"year":2018,"month":"aug","date":16},{"year":2018,"month":"aug","date":17},{"year":2018,"month":"aug","date":18},{"year":2018,"month":"aug","date":19},{"year":2018,"month":"aug","date":20}
],
"labelExpr": "datum.value >= datetime(2018, 7, 20) ? '' : timeFormat(datum.value, '%d/%m/%Y')",
"labelAngle": -56, "labelAlign": "right", "labelBaseline": "middle", "labelPadding": 8,
"labelFontSize": 24, "labelColor": "black", "labelOverlap": false, "labelBound": false, "labelFlush": false,
"grid": false, "domainColor": "#868686", "domainWidth": 1.5, "tickColor": "#868686", "tickWidth": 1.5, "tickSize": 7
}
},
"y": {"field": "v", "type": "quantitative",
"scale": {"domain": [0, 9], "nice": false},
"axis": {
"title": "µg/m³", "titleFontSize": 17, "titleFontWeight": "bold", "titleColor": "black", "titlePadding": 24, "titleY": 527,
"values": [0, 1, 2, 3, 4, 5, 6, 7, 8, 9],
"labelExpr": "replace(format(datum.value, '.2f'), '.', ',')",
"labelFontSize": 17, "labelColor": "black", "labelPadding": 18,
"grid": true, "gridColor": "#868686", "gridWidth": 1.5,
"domainColor": "#868686", "domainWidth": 1.5, "tickColor": "#868686", "tickWidth": 1.5, "tickSize": 7
}
},
"color": {"datum": "BENZENE", "type": "nominal",
"scale": {"range": ["#4F81BD"]},
"legend": {"title": null, "orient": "none", "legendX": 1689, "legendY": 587, "symbolType": "square", "symbolSize": 110, "labelFontSize": 18, "labelColor": "black", "labelOffset": 5}
}
}
},
{
"data": {"name": "days"},
"mark": {"type": "rule", "color": "#FF0000", "strokeWidth": 2.5},
"encoding": {
"x": {"field": "d", "type": "temporal"}
}
}
]
}
